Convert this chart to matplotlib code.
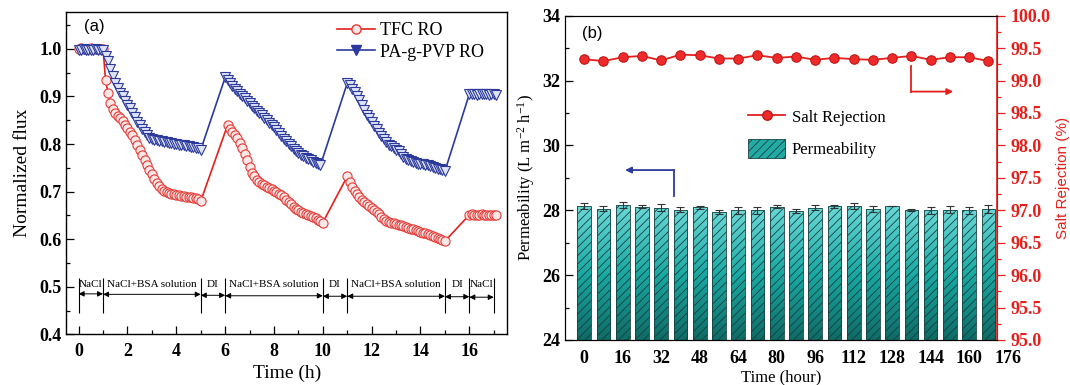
import numpy as np
import matplotlib
matplotlib.use("Agg")
import matplotlib.pyplot as plt
from matplotlib.colors import LinearSegmentedColormap
from matplotlib.lines import Line2D
from matplotlib.patches import Rectangle
from matplotlib.ticker import MultipleLocator, FormatStrFormatter

SERIF = "Liberation Serif"
SANS = "Liberation Sans"
plt.rcParams["font.family"] = SERIF
plt.rcParams["mathtext.fontset"] = "custom"
plt.rcParams["mathtext.rm"] = SERIF
plt.rcParams["mathtext.it"] = SERIF + ":italic"
plt.rcParams["hatch.linewidth"] = 0.6

# ---------------- (a) normalized flux during fouling cycles ----------------
t_nacl1 = [0.0, 0.1, 0.2, 0.3, 0.4, 0.5, 0.6, 0.7, 0.8, 0.9, 1.0]
t_foul1 = [1.1, 1.2, 1.3, 1.4, 1.5, 1.6, 1.7, 1.8, 1.9, 2.0,
           2.1, 2.2, 2.3, 2.4, 2.5, 2.6, 2.7, 2.8, 2.9, 3.0,
           3.1, 3.2, 3.3, 3.4, 3.5, 3.6, 3.7, 3.8, 3.9, 4.0,
           4.1, 4.2, 4.3, 4.4, 4.5, 4.6, 4.7, 4.8, 4.9, 5.0]
t_foul2 = [6.1, 6.2, 6.3, 6.4, 6.5, 6.6, 6.7, 6.8, 6.9, 7.0,
           7.1, 7.2, 7.3, 7.4, 7.5, 7.6, 7.7, 7.8, 7.9, 8.0,
           8.1, 8.2, 8.3, 8.4, 8.5, 8.6, 8.7, 8.8, 8.9, 9.0,
           9.1, 9.2, 9.3, 9.4, 9.5, 9.6, 9.7, 9.8, 9.9, 10.0]
t_foul3 = [11.0, 11.1, 11.2, 11.3, 11.4, 11.5, 11.6, 11.7, 11.8, 11.9,
           12.0, 12.1, 12.2, 12.3, 12.4, 12.5, 12.6, 12.7, 12.8, 12.9,
           13.0, 13.1, 13.2, 13.3, 13.4, 13.5, 13.6, 13.7, 13.8, 13.9,
           14.0, 14.1, 14.2, 14.3, 14.4, 14.5, 14.6, 14.7, 14.8, 14.9, 15.0]
t_nacl2 = [16.0, 16.1, 16.2, 16.3, 16.4, 16.5, 16.6, 16.7, 16.8, 16.9, 17.0, 17.1]

tfc_nacl1 = [1.000, 1.001, 1.000, 0.999, 1.000, 1.001, 1.000, 1.000, 0.999, 1.000, 1.000]
tfc_foul1 = [0.935, 0.908, 0.886, 0.874, 0.866, 0.859, 0.854, 0.848, 0.841, 0.834,
             0.826, 0.818, 0.808, 0.798, 0.788, 0.778, 0.766, 0.756, 0.746, 0.737,
             0.727, 0.719, 0.712, 0.706, 0.702, 0.699, 0.697, 0.695, 0.694, 0.693,
             0.692, 0.691, 0.690, 0.689, 0.688, 0.688, 0.687, 0.686, 0.685, 0.680]
tfc_foul2 = [0.840, 0.832, 0.826, 0.820, 0.812, 0.802, 0.791, 0.779, 0.766, 0.752,
             0.740, 0.732, 0.725, 0.720, 0.716, 0.713, 0.710, 0.707, 0.705, 0.702,
             0.700, 0.696, 0.692, 0.688, 0.683, 0.678, 0.673, 0.668, 0.663, 0.661,
             0.658, 0.655, 0.652, 0.650, 0.648, 0.646, 0.644, 0.641, 0.638, 0.635]
tfc_foul3 = [0.732, 0.720, 0.710, 0.702, 0.694, 0.688, 0.683, 0.678, 0.673, 0.669,
             0.665, 0.661, 0.658, 0.652, 0.646, 0.642, 0.639, 0.637, 0.635, 0.633,
             0.632, 0.630, 0.629, 0.627, 0.626, 0.624, 0.622, 0.621, 0.619, 0.617,
             0.616, 0.614, 0.612, 0.611, 0.609, 0.607, 0.605, 0.603, 0.601, 0.599, 0.596]
tfc_nacl2 = [0.651, 0.652, 0.651, 0.650, 0.651, 0.652, 0.651, 0.651, 0.650, 0.651, 0.651, 0.650]

pvp_nacl1 = [0.998, 0.998, 0.999, 0.998, 0.997, 0.998, 0.998, 0.999, 0.998, 0.998, 0.997]
pvp_foul1 = [0.985, 0.975, 0.958, 0.944, 0.929, 0.917, 0.908, 0.900, 0.891, 0.883,
             0.875, 0.866, 0.856, 0.847, 0.839, 0.832, 0.825, 0.818, 0.813, 0.810,
             0.809, 0.808, 0.807, 0.806, 0.805, 0.804, 0.803, 0.802, 0.801, 0.800,
             0.799, 0.798, 0.797, 0.796, 0.795, 0.794, 0.793, 0.792, 0.791, 0.788]
pvp_foul2 = [0.940, 0.934, 0.928, 0.922, 0.916, 0.911, 0.906, 0.901, 0.896, 0.891,
             0.886, 0.881, 0.876, 0.870, 0.865, 0.860, 0.855, 0.850, 0.845, 0.840,
             0.835, 0.829, 0.823, 0.817, 0.811, 0.806, 0.800, 0.795, 0.790, 0.786,
             0.781, 0.777, 0.774, 0.771, 0.768, 0.766, 0.763, 0.760, 0.758, 0.755]
pvp_foul3 = [0.928, 0.924, 0.916, 0.909, 0.901, 0.892, 0.882, 0.872, 0.862, 0.854,
             0.846, 0.838, 0.831, 0.824, 0.817, 0.810, 0.804, 0.799, 0.795, 0.791,
             0.788, 0.785, 0.779, 0.773, 0.769, 0.766, 0.764, 0.762, 0.761, 0.759,
             0.758, 0.757, 0.756, 0.755, 0.753, 0.752, 0.750, 0.748, 0.747, 0.745, 0.743]
pvp_nacl2 = [0.905, 0.906, 0.905, 0.904, 0.905, 0.906, 0.905, 0.905, 0.904, 0.905, 0.905, 0.904]

stage_bounds = [0, 1, 5, 6, 10, 11, 15, 16, 17]
stage_names = ["NaCl", "NaCl+BSA solution", "DI", "NaCl+BSA solution",
               "DI", "NaCl+BSA solution", "DI", "NaCl"]

# ---------------- (b) long-term stability ----------------
hours = [0, 8, 16, 24, 32, 40, 48, 56, 64, 72, 80, 88,
         96, 104, 112, 120, 128, 136, 144, 152, 160, 168]
permeability = [28.13, 28.05, 28.16, 28.11, 28.08, 28.02, 28.09, 27.94, 28.00, 28.00, 28.11,
                27.98, 28.08, 28.12, 28.14, 28.05, 28.13, 28.00, 28.00, 28.02, 28.00, 28.04]
permeability_err = [0.08, 0.07, 0.10, 0.05, 0.10, 0.08, 0.04, 0.07, 0.10, 0.10, 0.04,
                    0.07, 0.07, 0.05, 0.09, 0.09, 0.01, 0.03, 0.10, 0.10, 0.10, 0.12]
rejection = [99.33, 99.30, 99.36, 99.38, 99.31, 99.40, 99.39, 99.34, 99.34, 99.39, 99.35,
             99.37, 99.32, 99.35, 99.33, 99.32, 99.35, 99.38, 99.32, 99.36, 99.36, 99.30]
rejection_err = [0.02, 0.05, 0.02, 0.02, 0.06, 0.02, 0.02, 0.06, 0.02, 0.02, 0.02,
                 0.02, 0.02, 0.06, 0.02, 0.02, 0.02, 0.06, 0.02, 0.02, 0.06, 0.02]
hour_ticks = [0, 16, 32, 48, 64, 80, 96, 112, 128, 144, 160]

RED = "#e3201c"
BLUE = "#2b3a9c"

fig = plt.figure(figsize=(10.7, 3.85), dpi=100)
axa = fig.add_axes([0.0621, 0.1317, 0.4119, 0.8364])
axb = fig.add_axes([0.5280, 0.1169, 0.4038, 0.8423])

tick_font = dict(family=SERIF, weight="bold", size=13)

# ---- panel (a) ----
tfc_t = t_nacl1 + t_foul1 + t_foul2 + t_foul3 + t_nacl2
tfc_f = tfc_nacl1 + tfc_foul1 + tfc_foul2 + tfc_foul3 + tfc_nacl2
pvp_t = t_nacl1 + t_foul1 + [6.0] + t_foul2[:-1] + t_foul3 + t_nacl2
pvp_f = pvp_nacl1 + pvp_foul1 + pvp_foul2 + pvp_foul3 + pvp_nacl2

axa.plot(tfc_t, tfc_f, "-o", color=RED, lw=1.2, ms=6.6, mfc="#fde6e6",
         mec="#e43a36", mew=0.8, zorder=3)
axa.plot(pvp_t, pvp_f, "-v", color=BLUE, lw=1.2, ms=7.5, mfc="#dfe3f6",
         mec=BLUE, mew=0.8, zorder=4)

axa.set_xlim(-0.5, 17.55)
axa.set_ylim(0.4, 1.077)
axa.xaxis.set_major_locator(MultipleLocator(2))
axa.xaxis.set_minor_locator(MultipleLocator(1))
axa.yaxis.set_major_locator(MultipleLocator(0.1))
axa.yaxis.set_minor_locator(MultipleLocator(0.05))
axa.yaxis.set_major_formatter(FormatStrFormatter("%.1f"))
axa.tick_params(which="both", direction="in", top=False, right=False, width=0.9)
axa.tick_params(which="major", length=6)
axa.tick_params(which="minor", length=3)
axa.tick_params(axis="x", pad=6)
for lab in axa.get_xticklabels() + axa.get_yticklabels():
    lab.set_fontproperties(tick_font)
for s in axa.spines.values():
    s.set_linewidth(1.0)
axa.set_xlabel("Time (h)", fontsize=14, labelpad=4)
axa.set_ylabel("Normalized flux", fontsize=14, labelpad=6)
axa.text(0.04, 0.955, "(a)", transform=axa.transAxes, family=SANS, fontsize=12,
         va="center", ha="left")

# stage markers along the bottom
axa.vlines(stage_bounds, 0.445, 0.519, color="k", lw=0.8)
arrow_y = [0.485, 0.484, 0.482, 0.481, 0.480, 0.480, 0.479, 0.478]
for i, name in enumerate(stage_names):
    b0, b1 = stage_bounds[i], stage_bounds[i + 1]
    axa.annotate("", xy=(b1, arrow_y[i]), xytext=(b0, arrow_y[i]),
                 arrowprops=dict(arrowstyle="<|-|>", color="k", lw=0.7,
                                 mutation_scale=8, shrinkA=0, shrinkB=0))
    axa.text((b0 + b1) / 2, 0.504, name, fontsize=8, ha="center", va="center")

handles_a = [
    Line2D([], [], color=RED, lw=1.2, marker="o", ms=6.6, mfc="#fde6e6", mec="#e43a36"),
    Line2D([], [], color=BLUE, lw=1.2, marker="v", ms=7.5, mfc=BLUE, mec=BLUE),
]
axa.legend(handles_a, ["TFC RO", "PA-g-PVP RO"], loc="upper right",
           bbox_to_anchor=(0.985, 1.02), frameon=False, fontsize=13,
           handlelength=2.1, handletextpad=0.3, labelspacing=0.25)

# ---- panel (b) ----
cmap = LinearSegmentedColormap.from_list("teal", ["#0f6b66", "#1aa9a3", "#6ad8d8"])
grad = np.linspace(0, 1, 256).reshape(-1, 1)
bars = axb.bar(hours, permeability, width=5.7, color="none", edgecolor="#15403e",
               hatch="////", linewidth=0.6, zorder=3)
for b in bars:
    x0, w, h = b.get_x(), b.get_width(), b.get_height()
    im = axb.imshow(grad, extent=[x0, x0 + w, 24, h], origin="lower",
                    aspect="auto", cmap=cmap, zorder=2)
    im.set_clip_path(b)
axb.errorbar(hours, permeability, yerr=permeability_err, fmt="none", ecolor="#333333",
             elinewidth=0.8, capsize=3, capthick=0.8, zorder=4)

axb.set_xlim(-8, 171.6)
axb.set_ylim(24, 34)
axb.set_xticks(hour_ticks)
axb.yaxis.set_major_locator(MultipleLocator(2))
axb.yaxis.set_minor_locator(MultipleLocator(1))
axb.tick_params(axis="x", length=0, pad=7)
axb.tick_params(axis="y", which="both", direction="in", right=False, width=0.9)
axb.tick_params(axis="y", which="major", length=6)
axb.tick_params(axis="y", which="minor", length=3)
for lab in axb.get_xticklabels() + axb.get_yticklabels():
    lab.set_fontproperties(tick_font)
axb.annotate("176", xy=(176, 0), xycoords=axb.get_xaxis_transform(),
             xytext=(0, -7), textcoords="offset points", ha="center", va="top",
             annotation_clip=False, **tick_font)
axb.set_xlabel("Time (hour)", fontsize=12, labelpad=2)
axb.set_ylabel("Permeability (L m$^{-2}$ h$^{-1}$)", fontsize=12, labelpad=4)
axb.text(0.04, 0.945, "(b)", transform=axb.transAxes, family=SANS, fontsize=12,
         va="center", ha="left")

axr = axb.twinx()
axr.errorbar(hours, rejection, yerr=rejection_err, fmt="-o", color=RED, lw=1.3,
             ms=6.8, mfc="#ee2b2b", mec="#c41515", mew=0.8, ecolor="#d03030",
             elinewidth=0.8, capsize=2.5, capthick=0.8, zorder=5)
axr.set_ylim(95, 100)
axr.yaxis.set_major_locator(MultipleLocator(0.5))
axr.yaxis.set_minor_locator(MultipleLocator(0.25))
axr.yaxis.set_major_formatter(FormatStrFormatter("%.1f"))
axr.tick_params(axis="y", which="both", direction="out", colors=RED, width=0.9)
axr.tick_params(axis="y", which="major", length=6)
axr.tick_params(axis="y", which="minor", length=3)
for lab in axr.get_yticklabels():
    lab.set_fontproperties(tick_font)
    lab.set_color(RED)
axr.spines["right"].set_color(RED)
axr.spines["right"].set_linewidth(1.2)
axr.set_ylabel("Salt Rejection (%)", color=RED, family=SANS, fontsize=11, labelpad=4)

# axis-pointer arrows
axb.plot([37.3, 37.3], [28.45, 29.24], color=BLUE, lw=1.3, zorder=6)
axb.annotate("", xy=(17, 29.24), xytext=(37.3, 29.24),
             arrowprops=dict(arrowstyle="-|>", color=BLUE, lw=1.3, mutation_scale=9,
                             shrinkA=0, shrinkB=0), zorder=6)
axr.plot([hours[17], hours[17]], [99.22, 98.83], color=RED, lw=1.3, zorder=6)
axr.annotate("", xy=(153.4, 98.83), xytext=(hours[17], 98.83),
             arrowprops=dict(arrowstyle="-|>", color=RED, lw=1.3, mutation_scale=9,
                             shrinkA=0, shrinkB=0), zorder=6)

handles_b = [
    Line2D([], [], color=RED, lw=1.3, marker="o", ms=6.8, mfc="#ee2b2b", mec="#c41515"),
    Rectangle((0, 0), 1, 1, facecolor="#22aaa5", edgecolor="#15403e", hatch="////",
              linewidth=0.6),
]
axr.legend(handles_b, ["Salt Rejection", "Permeability"], loc="center left",
           bbox_to_anchor=(0.39, 0.64), frameon=False, fontsize=12,
           handlelength=2.2, handleheight=1.4, handletextpad=0.4, labelspacing=0.75)

fig.savefig("out.png", dpi=100)
